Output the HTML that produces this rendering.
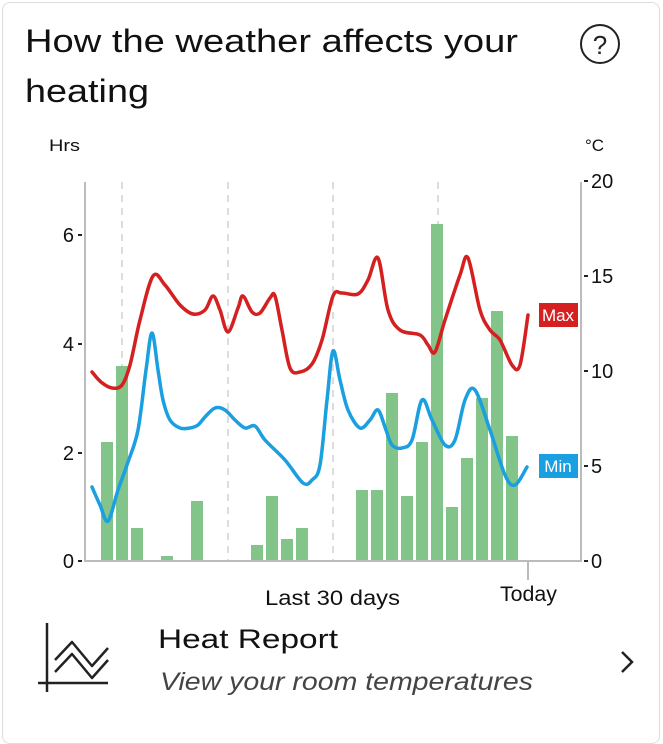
<!DOCTYPE html><html><head><style>
body{margin:0;background:#fff;font-family:"Liberation Sans",sans-serif;}
.card{position:absolute;left:2px;top:2px;width:656px;height:740px;border:1px solid #ddd;border-radius:8px;background:#fff;}
</style></head><body><div class="card"></div>
<svg width="663" height="731" style="position:absolute;left:0;top:0" font-family="Liberation Sans, sans-serif">
<text x="25" y="52" font-size="32" fill="#111" textLength="493" lengthAdjust="spacingAndGlyphs">How the weather affects your</text>
<text x="25" y="102" font-size="32" fill="#111" textLength="124" lengthAdjust="spacingAndGlyphs">heating</text>
<circle cx="600" cy="44" r="19" fill="none" stroke="#222" stroke-width="2"/>
<text x="600" y="54" font-size="26" text-anchor="middle" fill="#222">?</text>
<text x="49" y="151" font-size="17" fill="#111" textLength="31" lengthAdjust="spacingAndGlyphs">Hrs</text>
<text x="585" y="151" font-size="17" fill="#111">°C</text>
<g stroke="#ddd" stroke-width="2" stroke-dasharray="7,6">
<line x1="122" y1="182" x2="122" y2="561"/><line x1="228" y1="182" x2="228" y2="561"/><line x1="333" y1="182" x2="333" y2="561"/><line x1="438" y1="182" x2="438" y2="561"/></g>
<g fill="#82c48a">
<rect x="101" y="442" width="12" height="119"/><rect x="116" y="366" width="12" height="195"/><rect x="131" y="528" width="12" height="33"/>
<rect x="161" y="556" width="12" height="5"/><rect x="191" y="501" width="12" height="60"/>
<rect x="251" y="545" width="12" height="16"/><rect x="266" y="496" width="12" height="65"/><rect x="281" y="539" width="12" height="22"/><rect x="296" y="528" width="12" height="33"/>
<rect x="356" y="490" width="12" height="71"/><rect x="371" y="490" width="12" height="71"/><rect x="386" y="393" width="12" height="168"/><rect x="401" y="496" width="12" height="65"/><rect x="416" y="442" width="12" height="119"/><rect x="431" y="224" width="12" height="337"/><rect x="446" y="507" width="12" height="54"/><rect x="461" y="458" width="12" height="103"/><rect x="476" y="398" width="12" height="163"/><rect x="491" y="311" width="12" height="250"/><rect x="506" y="436" width="12" height="125"/>
</g>
<g stroke="#bbb" stroke-width="2" fill="none"><line x1="85" y1="182" x2="85" y2="562"/><line x1="581" y1="182" x2="581" y2="562"/><line x1="84" y1="561" x2="582" y2="561"/><line x1="528" y1="561" x2="528" y2="580"/></g>
<g stroke="#222" stroke-width="2"><line x1="78" y1="561" x2="82" y2="561"/><line x1="78" y1="453" x2="82" y2="453"/><line x1="78" y1="344" x2="82" y2="344"/><line x1="78" y1="235" x2="82" y2="235"/>
<line x1="584" y1="561" x2="588" y2="561"/><line x1="584" y1="466" x2="588" y2="466"/><line x1="584" y1="371" x2="588" y2="371"/><line x1="584" y1="276" x2="588" y2="276"/><line x1="584" y1="181" x2="588" y2="181"/></g>
<g font-size="20" fill="#111" text-anchor="end"><text x="74" y="568">0</text><text x="74" y="460">2</text><text x="74" y="351">4</text><text x="74" y="242">6</text></g>
<g font-size="20" fill="#111"><text x="591" y="568">0</text><text x="591" y="473">5</text><text x="591" y="378">10</text><text x="591" y="283">15</text><text x="591" y="188">20</text></g>
<path id="red" fill="none" stroke="#d42020" stroke-width="3.5" stroke-linejoin="round" stroke-linecap="round"/>
<path id="blue" fill="none" stroke="#1a9fe0" stroke-width="3.5" stroke-linejoin="round" stroke-linecap="round"/>
<rect x="539" y="303" width="39" height="24" fill="#d42020"/><text x="558" y="321" font-size="17" fill="#fff" text-anchor="middle">Max</text>
<rect x="539" y="454" width="39" height="24" fill="#1a9fe0"/><text x="558" y="472" font-size="17" fill="#fff" text-anchor="middle">Min</text>
<text x="265" y="605" font-size="21" fill="#111" textLength="135" lengthAdjust="spacingAndGlyphs">Last 30 days</text>
<text x="500" y="601" font-size="21" fill="#111" textLength="57" lengthAdjust="spacingAndGlyphs">Today</text>
<g stroke="#222" stroke-width="2.5" fill="none" stroke-linejoin="round"><line x1="47" y1="623" x2="47" y2="692"/><line x1="38" y1="683" x2="108" y2="683"/>
<polyline points="55,660 72,642 92,666 108,648"/><polyline points="55,672 72,654 92,678 108,660"/></g>
<text x="158" y="648" font-size="27" fill="#111" textLength="180" lengthAdjust="spacingAndGlyphs">Heat Report</text>
<text x="160" y="690" font-size="25" font-style="italic" fill="#444" textLength="373" lengthAdjust="spacingAndGlyphs">View your room temperatures</text>
<polyline points="622,652 632,662 622,672" fill="none" stroke="#222" stroke-width="2.5"/>
</svg>
<script>
function smooth(s){var p=s.trim().split(/\s+/).map(function(a){return a.split(',').map(Number)});
var d='M'+p[0][0]+','+p[0][1];
for(var i=0;i<p.length-1;i++){var p0=p[i-1]||p[i],p1=p[i],p2=p[i+1],p3=p[i+2]||p2;
d+=' C'+(p1[0]+(p2[0]-p0[0])/6)+','+(p1[1]+(p2[1]-p0[1])/6)+' '+(p2[0]-(p3[0]-p1[0])/6)+','+(p2[1]-(p3[1]-p1[1])/6)+' '+p2[0]+','+p2[1];}
return d;}
document.getElementById('red').setAttribute('d',smooth("92,372 101,382 112,388 122,385 130,365 140,320 153,276 165,285 180,305 193,314 205,310 213,296 220,310 228,332 238,308 243,296 252,312 260,313 270,298 275,296 282,330 290,368 300,372 312,364 322,340 333,296 342,293 358,294 368,280 378,258 388,310 400,330 420,335 428,345 435,352 445,320 460,275 468,258 480,310 490,330 500,340 512,365 520,365 528,315"));
document.getElementById('blue').setAttribute('d',smooth("92,487 100,505 108,521 118,490 128,462 138,430 146,370 152,333 158,370 163,400 170,420 180,428 190,428 198,425 205,417 215,408 225,410 235,420 245,428 255,426 265,440 285,460 303,483 312,480 320,465 327,400 333,351 340,380 348,410 360,428 370,420 378,410 386,430 392,445 402,448 412,440 422,400 432,420 445,445 455,440 465,400 475,390 490,430 505,475 515,485 527,467"));
</script>
</body></html>
